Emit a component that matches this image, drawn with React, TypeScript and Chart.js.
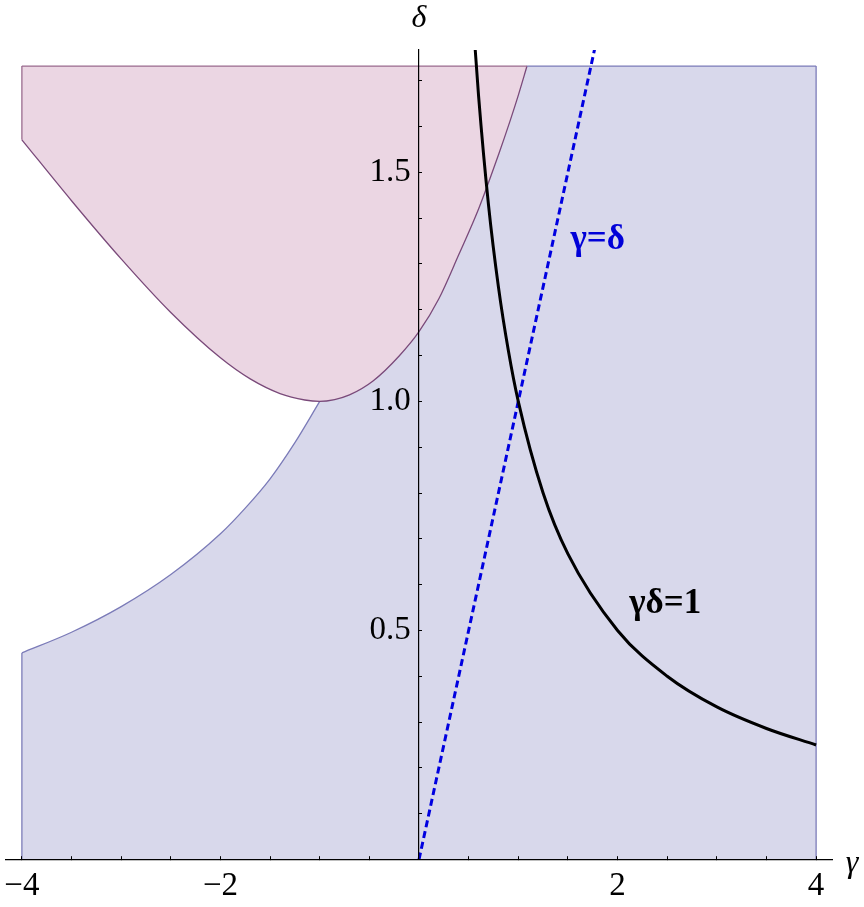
import React, { useEffect, useRef } from 'react';
import { Chart, registerables } from 'chart.js';

Chart.register(...registerables);

// ---- data ----
const X_RANGE = [-4.16, 4.16];
const Y_RANGE = [0, 1.767];
const REGION_LEFT = -4;
const REGION_RIGHT = 4;
const REGION_TOP = 1.732;

// lower-left boundary of the blue region (white gap above it)
const blueCurveGamma = [-4, -3.5, -3, -2.5, -2, -1.75, -1.5, -1.25, -1];
const blueCurveDelta = [0.451, 0.496, 0.552, 0.622, 0.711, 0.767, 0.831, 0.91, 1.0];

// lower boundary of the pink region
const pinkCurveGamma = [-4, -3.5, -3, -2.5, -2, -1.7, -1.4, -1.15, -1, -0.85, -0.7, -0.46, -0.2, 0, 0.2, 0.4, 0.6, 0.8, 0.92, 1.0, 1.088];
const pinkCurveDelta = [1.571, 1.438, 1.311, 1.194, 1.095, 1.049, 1.017, 1.003, 1.0, 1.004, 1.014, 1.045, 1.099, 1.152, 1.224, 1.32, 1.42, 1.538, 1.614, 1.668, 1.732];

// gamma*delta = 1
const hyperGamma = [0.55, 0.6, 0.7, 0.8, 0.9, 1, 1.25, 1.5, 2, 2.5, 3, 3.5, 4];
const hyperDelta = [1.818, 1.667, 1.429, 1.25, 1.111, 1.0, 0.8, 0.667, 0.5, 0.4, 0.333, 0.286, 0.25];

// gamma = delta
const diagGamma = [0, 1.8];
const diagDelta = [0, 1.8];

// ticks
const xTickValues = [-4, -3.5, -3, -2.5, -2, -1.5, -1, -0.5, 0.5, 1, 1.5, 2, 2.5, 3, 3.5, 4];
const xLabelValues = [-4, -2, 2, 4];
const xLabelTexts = ['\u22124', '\u22122', '2', '4'];
const yTickValues = [0.1, 0.2, 0.3, 0.4, 0.5, 0.6, 0.7, 0.8, 0.9, 1.0, 1.1, 1.2, 1.3, 1.4, 1.5, 1.6, 1.7];
const yLabelValues = [0.5, 1.0, 1.5];
const yLabelTexts = ['0.5', '1.0', '1.5'];

// annotations (data coordinates)
const ANN_DIAG = { text: '\u03b3=\u03b4', gamma: 1.8, delta: 1.353 };
const ANN_HYPER = { text: '\u03b3\u03b4=1', gamma: 2.48, delta: 0.558 };

// ---- styles ----
const BLUE_FILL = '#d8d8eb';
const PINK_FILL = '#ebd6e3';
const BLUE_EDGE = '#7b7bb8';
const PINK_EDGE = '#9a6a8e';
const PINK_CURVE_EDGE = '#7a4a7a';
const SERIF = '"Liberation Serif", "Times New Roman", serif';

const pts = (xs: number[], ys: number[]) => xs.map((x, i) => ({ x, y: ys[i] }));

const labelFor = (v: number, values: number[], texts: string[], suffix = '') => {
  const i = values.findIndex((w) => Math.abs(w - v) < 1e-9);
  return i >= 0 ? texts[i] + suffix : '';
};

const textPlugin = {
  id: 'annotTexts',
  afterDraw(chart: any) {
    const { ctx } = chart;
    const x = chart.scales.x;
    const y = chart.scales.y;
    ctx.save();
    ctx.textAlign = 'center';
    ctx.textBaseline = 'middle';
    ctx.fillStyle = '#000';
    ctx.font = `italic 32px ${SERIF}`;
    ctx.fillText('\u03b4', x.getPixelForValue(0), y.getPixelForValue(Y_RANGE[1]) - 31);
    ctx.fillText('\u03b3', x.getPixelForValue(X_RANGE[1]) + 20, y.getPixelForValue(0) + 4);
    ctx.font = `bold 35px ${SERIF}`;
    ctx.fillStyle = '#0000d8';
    ctx.fillText(ANN_DIAG.text, x.getPixelForValue(ANN_DIAG.gamma), y.getPixelForValue(ANN_DIAG.delta));
    ctx.fillStyle = '#000';
    ctx.fillText(ANN_HYPER.text, x.getPixelForValue(ANN_HYPER.gamma), y.getPixelForValue(ANN_HYPER.delta));
    ctx.restore();
  },
};

const noPad = (s: any) => {
  s.paddingLeft = 0;
  s.paddingRight = 0;
  s.paddingTop = 0;
  s.paddingBottom = 0;
};

export default function App() {
  const ref = useRef<HTMLCanvasElement | null>(null);

  useEffect(() => {
    document.body.style.margin = '0';
    const canvas = ref.current;
    if (!canvas) return;
    const lastPinkGamma = pinkCurveGamma[pinkCurveGamma.length - 1];
    const edge = (data: any[], color: string, order: number) => ({
      data,
      showLine: true,
      borderColor: color,
      borderWidth: 1.3,
      pointRadius: 0,
      fill: false,
      order,
    });

    const chart = new Chart(canvas, {
      type: 'scatter',
      data: {
        datasets: [
          {
            data: [
              { x: REGION_LEFT, y: REGION_TOP },
              { x: REGION_RIGHT, y: REGION_TOP },
            ],
            showLine: true,
            borderWidth: 0,
            borderColor: 'rgba(0,0,0,0)',
            backgroundColor: BLUE_FILL,
            fill: 'origin',
            pointRadius: 0,
            order: 10,
          },
          {
            data: pts(blueCurveGamma, blueCurveDelta),
            showLine: true,
            borderColor: BLUE_EDGE,
            borderWidth: 1.3,
            backgroundColor: '#ffffff',
            fill: { value: REGION_TOP },
            cubicInterpolationMode: 'monotone',
            pointRadius: 0,
            order: 9,
          },
          {
            data: pts(pinkCurveGamma, pinkCurveDelta),
            showLine: true,
            borderColor: PINK_CURVE_EDGE,
            borderWidth: 1.3,
            backgroundColor: PINK_FILL,
            fill: { value: REGION_TOP },
            cubicInterpolationMode: 'monotone',
            pointRadius: 0,
            order: 8,
          },
          edge([{ x: REGION_LEFT, y: REGION_TOP }, { x: lastPinkGamma, y: REGION_TOP }], PINK_EDGE, 5),
          edge([{ x: REGION_LEFT, y: pinkCurveDelta[0] }, { x: REGION_LEFT, y: REGION_TOP }], PINK_EDGE, 5),
          edge([{ x: REGION_LEFT, y: 0 }, { x: REGION_LEFT, y: blueCurveDelta[0] }], BLUE_EDGE, 5),
          edge([{ x: lastPinkGamma, y: REGION_TOP }, { x: REGION_RIGHT, y: REGION_TOP }], BLUE_EDGE, 5),
          edge([{ x: REGION_RIGHT, y: 0 }, { x: REGION_RIGHT, y: REGION_TOP }], BLUE_EDGE, 5),
          {
            data: pts(diagGamma, diagDelta),
            showLine: true,
            borderColor: '#0000e0',
            borderWidth: 3,
            borderDash: [7, 4],
            pointRadius: 0,
            fill: false,
            order: 2,
          },
          {
            data: pts(hyperGamma, hyperDelta),
            showLine: true,
            borderColor: '#000000',
            borderWidth: 3,
            cubicInterpolationMode: 'monotone',
            pointRadius: 0,
            fill: false,
            order: 1,
          },
        ],
      } as any,
      options: {
        animation: false,
        responsive: false,
        events: [],
        layout: { padding: { left: 6, right: 32, top: 50, bottom: 47.5 } },
        plugins: { legend: { display: false }, tooltip: { enabled: false } },
        scales: {
          x: {
            type: 'linear',
            min: X_RANGE[0],
            max: X_RANGE[1],
            position: { y: 0 } as any,
            afterFit: noPad,
            afterBuildTicks: (s: any) => {
              s.ticks = xTickValues.map((v) => ({ value: v }));
            },
            ticks: {
              z: 1,
              autoSkip: false,
              maxRotation: 0,
              padding: 11,
              color: '#000',
              font: { family: SERIF, size: 33 },
              callback: (v: any) => labelFor(Number(v), xLabelValues, xLabelTexts),
            },
            grid: { z: 1, drawOnChartArea: false, drawTicks: true, tickLength: -4, tickColor: '#000', tickWidth: 1 },
            border: { z: 1, display: true, color: '#000', width: 1.2 },
          },
          y: {
            type: 'linear',
            min: Y_RANGE[0],
            max: Y_RANGE[1],
            position: { x: 0 } as any,
            afterFit: noPad,
            afterBuildTicks: (s: any) => {
              s.ticks = yTickValues.map((v) => ({ value: v }));
            },
            ticks: {
              z: 1,
              autoSkip: false,
              color: '#000',
              font: { family: SERIF, size: 33 },
              callback: (v: any) => labelFor(Number(v), yLabelValues, yLabelTexts, ' '),
            },
            grid: { z: 1, drawOnChartArea: false, drawTicks: true, tickLength: -4, tickColor: '#000', tickWidth: 1 },
            border: { z: 1, display: true, color: '#000', width: 1.2 },
          },
        },
      } as any,
      plugins: [textPlugin],
    });
    return () => chart.destroy();
  }, []);

  return <canvas ref={ref} width={864} height={907} style={{ display: 'block' }} />;
}
